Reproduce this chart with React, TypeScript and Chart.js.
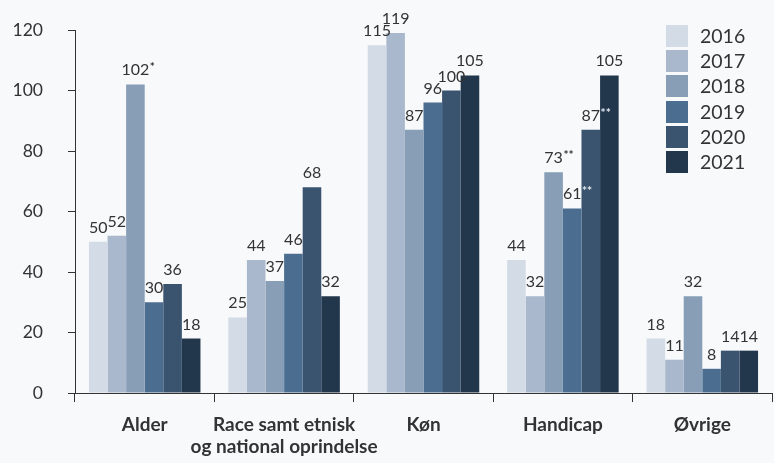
import React, { useEffect, useRef } from "react";
import { Chart, registerables } from "chart.js";

Chart.register(...registerables);

const categories: (string | string[])[] = [
  "Alder",
  ["Race samt etnisk", "og national oprindelse"],
  "Køn",
  "Handicap",
  "Øvrige",
];

const years = ["2016", "2017", "2018", "2019", "2020", "2021"];

const values2016 = [50, 25, 115, 44, 18];
const values2017 = [52, 44, 119, 32, 11];
const values2018 = [102, 37, 87, 73, 32];
const values2019 = [30, 46, 96, 61, 8];
const values2020 = [36, 68, 100, 87, 14];
const values2021 = [18, 32, 105, 105, 14];

const suffix2016 = ["", "", "", "", ""];
const suffix2017 = ["", "", "", "", ""];
const suffix2018 = ["*", "", "", "**", ""];
const suffix2019 = ["", "", "", "**", ""];
const suffix2020 = ["", "", "", "**", ""];
const suffix2021 = ["", "", "", "", ""];

const yTicks = [0, 20, 40, 60, 80, 100, 120];

const colors = ["#d3dbe6", "#a9b8cc", "#889db6", "#4b6d8f", "#3a546f", "#22364c"];
const suffixColors = ["#333333", "#333333", "#333333", "#e6ebf1", "#e6ebf1", "#333333"];

const allValues = [values2016, values2017, values2018, values2019, values2020, values2021];
const allSuffixes = [suffix2016, suffix2017, suffix2018, suffix2019, suffix2020, suffix2021];

const FONT = "Lato, 'Noto Sans', sans-serif";
const TEXT = "#333333";

const labelPlugin = {
  id: "valueLabels",
  afterDatasetsDraw(chart: any) {
    const ctx = chart.ctx;
    ctx.save();
    chart.data.datasets.forEach((ds: any, di: number) => {
      const meta = chart.getDatasetMeta(di);
      meta.data.forEach((el: any, i: number) => {
        const v = ds.data[i];
        const txt = String(v);
        ctx.font = `16px ${FONT}`;
        ctx.fillStyle = TEXT;
        ctx.textAlign = "center";
        ctx.textBaseline = "alphabetic";
        const y = el.y - 9;
        ctx.fillText(txt, el.x, y);
        const suf = allSuffixes[di][i];
        if (suf) {
          const w = ctx.measureText(txt).width;
          ctx.font = `bold 12px ${FONT}`;
          ctx.textAlign = "left";
          ctx.fillStyle = suffixColors[di];
          ctx.fillText(suf, el.x + w / 2 + 0.5, y - 4);
        }
      });
    });
    ctx.restore();
  },
};

export default function App() {
  const canvasRef = useRef<HTMLCanvasElement | null>(null);

  useEffect(() => {
    if (!canvasRef.current) return;
    const chart = new Chart(canvasRef.current, {
      type: "bar",
      data: {
        labels: categories,
        datasets: years.map((y, i) => ({
          label: y,
          data: allValues[i],
          backgroundColor: colors[i],
          borderWidth: 0,
          categoryPercentage: 0.8,
          barPercentage: 1,
        })),
      },
      options: {
        animation: false,
        responsive: true,
        maintainAspectRatio: false,
        layout: { padding: { top: 30, right: 2, left: 0, bottom: 0 } },
        plugins: {
          legend: { display: false },
          tooltip: { enabled: false },
        },
        scales: {
          x: {
            type: "category",
            grid: {
              display: true,
              drawOnChartArea: false,
              drawTicks: true,
              tickLength: 9,
              color: TEXT,
              offset: true,
            },
            border: { display: true, color: TEXT, width: 1 },
            ticks: {
              color: TEXT,
              font: { family: FONT, size: 19, weight: "bold", lineHeight: 1.15 },
              padding: 12,
              maxRotation: 0,
              autoSkip: false,
            },
            afterFit(scale: any) {
              scale.height = 70;
              scale.paddingLeft = 0;
              scale.paddingRight = 0;
            },
          },
          y: {
            min: 0,
            max: 120,
            afterBuildTicks(scale: any) {
              scale.ticks = yTicks.map((v) => ({ value: v }));
            },
            grid: {
              display: true,
              drawOnChartArea: false,
              drawTicks: true,
              tickLength: 7,
              color: TEXT,
            },
            border: { display: true, color: TEXT, width: 1 },
            ticks: {
              color: TEXT,
              font: { family: FONT, size: 17.5 },
              padding: 25,
            },
            afterFit(scale: any) {
              scale.width = 75;
              scale.paddingTop = 0;
              scale.paddingBottom = 0;
            },
          },
        },
      },
      plugins: [labelPlugin],
    } as any);
    return () => chart.destroy();
  }, []);

  return (
    <div
      style={{
        position: "fixed",
        left: 0,
        top: 0,
        width: 774,
        height: 463,
        background: "#f7f9fb",
      }}
    >
      <canvas ref={canvasRef} />
      <div style={{ position: "absolute", left: 666, top: 25, fontFamily: FONT }}>
        {years.map((y, i) => (
          <div
            key={y}
            style={{ display: "flex", alignItems: "center", height: 22, marginBottom: 3.2 }}
          >
            <div style={{ width: 22, height: 22, background: colors[i], marginRight: 12 }} />
            <span style={{ fontSize: 19.5, color: TEXT, lineHeight: "22px" }}>{y}</span>
          </div>
        ))}
      </div>
    </div>
  );
}
